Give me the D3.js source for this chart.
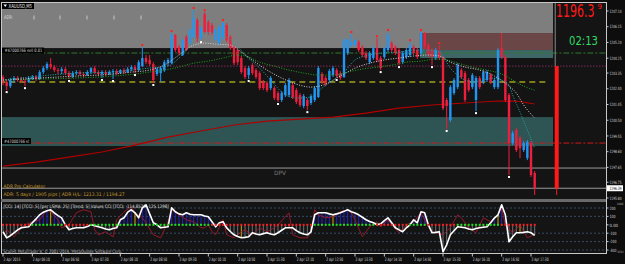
<!DOCTYPE html>
<html>
<head>
<meta charset="utf-8">
<script src="https://cdn.jsdelivr.net/npm/d3@7"></script>
<style>
html, body { margin: 0; padding: 0; background: #0d0d0d; }
svg { display: block; }
text { font-family: "DejaVu Sans", sans-serif; }
</style>
</head>
<body>
<svg id="chart" width="625" height="264"></svg>
<script>
// XAUUSD M5 bars, 2 Apr 2015 05:30 .. 17:35  [open, high, low, close]
var ohlc = [
  [1203.11,1203.23,1202.62,1202.81],[1202.81,1202.93,1202.32,1202.56],[1202.56,1203.05,1202.44,1202.93],
  [1202.93,1203.17,1202.75,1203.05],[1203.05,1203.17,1202.81,1202.93],[1202.93,1203.11,1202.75,1202.87],
  [1202.87,1202.99,1202.56,1202.81],[1202.81,1203.17,1202.75,1203.05],[1203.05,1203.23,1202.93,1203.11],
  [1203.11,1203.23,1202.87,1202.99],[1202.99,1203.53,1202.93,1203.41],[1203.41,1203.77,1203.29,1203.65],
  [1203.65,1204.01,1203.53,1203.89],[1203.89,1204.26,1203.59,1203.71],[1203.71,1203.83,1203.41,1203.53],
  [1203.53,1203.65,1203.29,1203.47],[1203.47,1203.71,1203.29,1203.59],[1203.59,1203.71,1203.23,1203.35],
  [1203.35,1203.47,1202.99,1203.17],[1203.17,1203.47,1203.05,1203.35],[1203.35,1203.53,1203.23,1203.41],
  [1203.41,1203.53,1203.17,1203.29],[1203.29,1203.41,1203.11,1203.23],[1203.23,1203.53,1203.17,1203.41],
  [1203.41,1203.71,1203.29,1203.65],[1203.65,1203.77,1203.29,1203.41],[1203.41,1203.53,1203.17,1203.29],
  [1203.29,1203.53,1203.05,1203.41],[1203.41,1203.53,1203.17,1203.29],[1203.29,1203.53,1203.23,1203.41],
  [1203.41,1203.59,1202.99,1203.47],[1203.47,1203.59,1203.23,1203.35],[1203.35,1203.59,1203.29,1203.53],
  [1203.53,1203.65,1203.29,1203.41],[1203.41,1203.71,1203.35,1203.59],[1203.59,1203.83,1203.47,1203.71],
  [1203.71,1203.83,1203.35,1203.53],[1203.53,1204.14,1203.47,1204.01],[1203.77,1204.92,1203.71,1204.26],
  [1204.26,1204.44,1203.89,1204.01],[1204.14,1204.44,1203.77,1203.89],[1203.89,1204.01,1202.75,1202.93],
  [1203.29,1203.71,1203.17,1203.59],[1203.35,1203.77,1202.81,1203.65],[1203.53,1204.14,1203.41,1204.01],
  [1203.95,1204.26,1203.77,1204.14],[1203.95,1205.77,1203.89,1205.65],[1205.65,1205.71,1204.62,1204.74],
  [1204.92,1205.04,1204.44,1204.56],[1204.44,1205.46,1204.38,1205.34],[1205.52,1205.65,1204.68,1204.74],
  [1205.16,1206.07,1205.04,1205.95],[1205.52,1207.16,1205.46,1206.67],[1206.55,1206.67,1205.22,1205.46],
  [1205.46,1206.19,1205.34,1206.07],[1206.91,1207.03,1205.71,1205.83],[1206.43,1206.55,1205.65,1205.83],
  [1206.25,1206.37,1205.65,1205.77],[1205.34,1206.07,1205.22,1205.95],[1205.16,1206.25,1205.04,1206.13],
  [1205.52,1206.43,1205.34,1206.37],[1206.25,1206.37,1205.22,1205.34],[1205.52,1205.65,1204.74,1204.86],
  [1204.92,1205.04,1203.83,1203.95],[1204.74,1204.86,1203.83,1204.01],[1204.26,1204.38,1203.29,1203.41],
  [1203.65,1203.77,1202.99,1203.11],[1203.23,1203.77,1202.99,1203.65],[1203.83,1203.95,1203.23,1203.35],
  [1203.53,1203.65,1202.99,1203.11],[1203.35,1203.47,1202.32,1202.44],[1202.81,1202.93,1202.32,1202.44],
  [1202.75,1202.87,1202.20,1202.32],[1202.44,1203.17,1202.32,1203.05],[1202.44,1202.56,1201.72,1201.84],
  [1202.14,1202.26,1201.60,1201.72],[1201.72,1202.26,1201.60,1202.14],[1202.02,1202.75,1201.90,1202.62],
  [1202.02,1203.05,1201.90,1202.93],[1202.62,1202.75,1201.78,1201.90],[1202.32,1202.44,1201.48,1201.60],
  [1202.02,1202.14,1201.30,1201.42],[1201.36,1202.08,1201.23,1201.96],[1201.72,1201.84,1201.11,1201.36],
  [1201.54,1202.08,1201.42,1201.96],[1201.72,1202.56,1201.60,1202.44],[1201.90,1203.77,1201.84,1203.65],
  [1203.29,1203.41,1202.68,1202.81],[1203.05,1203.17,1202.56,1202.68],[1202.93,1203.59,1202.81,1203.47],
  [1203.23,1203.77,1203.11,1203.65],[1203.53,1203.65,1203.05,1203.17],[1203.35,1203.47,1202.93,1203.05],
  [1203.11,1205.46,1203.05,1205.34],[1204.56,1205.46,1204.44,1205.34],[1205.04,1205.71,1204.92,1205.22],
  [1205.04,1205.46,1204.92,1205.34],[1205.22,1205.34,1204.62,1204.74],[1204.92,1205.04,1204.32,1204.44],
  [1204.56,1204.68,1204.14,1204.26],[1204.01,1204.68,1203.89,1204.56],[1204.26,1204.98,1204.14,1204.86],
  [1204.86,1205.46,1204.01,1204.14],[1204.26,1204.38,1203.53,1203.65],[1204.32,1204.98,1204.20,1204.86],
  [1204.74,1205.83,1204.62,1205.65],[1205.16,1205.28,1204.62,1204.74],[1204.92,1205.04,1204.44,1204.56],
  [1204.74,1204.86,1203.83,1203.95],[1204.01,1204.68,1203.89,1204.56],[1204.32,1204.86,1204.20,1204.74],
  [1204.44,1205.22,1204.32,1205.04],[1204.92,1205.04,1204.44,1204.56],[1204.74,1204.86,1204.20,1204.32],
  [1204.56,1205.83,1204.44,1205.77],[1205.77,1205.83,1204.80,1204.92],[1205.04,1205.16,1204.32,1204.44],
  [1204.74,1204.86,1203.83,1204.32],[1204.26,1204.86,1204.14,1204.74],[1204.62,1205.04,1204.14,1204.26],
  [1204.26,1204.38,1201.11,1201.23],[1201.72,1201.84,1199.97,1201.36],[1200.51,1202.62,1200.39,1202.50],
  [1202.14,1203.05,1202.02,1202.93],[1202.50,1203.95,1202.38,1203.83],[1203.53,1203.65,1202.99,1203.11],
  [1203.35,1203.47,1201.60,1201.72],[1202.93,1203.05,1202.20,1202.32],[1202.50,1203.35,1202.38,1203.23],
  [1201.72,1203.17,1201.05,1203.05],[1203.05,1203.17,1202.38,1202.50],[1202.81,1203.53,1202.68,1203.41],
  [1202.93,1203.53,1202.81,1203.41],[1203.23,1203.35,1202.68,1202.81],[1202.50,1203.05,1202.38,1202.93],
  [1202.50,1204.86,1202.38,1204.74],[1204.86,1205.77,1204.20,1204.32],[1204.32,1204.44,1201.60,1201.72],
  [1202.02,1202.14,1197.19,1199.12],[1199.12,1199.85,1199.00,1199.72],[1199.91,1200.03,1198.58,1198.70],
  [1199.42,1199.54,1198.21,1198.82],[1198.70,1199.24,1198.58,1199.12],[1198.21,1199.30,1198.09,1199.18],
  [1199.12,1199.24,1197.07,1197.19],[1197.31,1197.43,1195.98,1196.39]
];

// fractal markers (bar index)
var fractalUp = [38, 46, 52, 55, 60, 95, 102, 105, 111, 114, 119];
var fractalDown = [1, 6, 18, 27, 30, 36, 41, 54, 67, 75, 83, 91, 103, 108, 117, 121, 129, 138];

// moving averages read at bar indices
var fastIdx = [0,10,20,30,35,40,45,48,50,52,55,58,60,63,66,70,73,76,80,84,87,90,93,96,100,104,108,112,116,119,122,125,128,131,134,136,138,139,141,143,145];
var fastVal = [1202.93,1203.17,1203.35,1203.41,1203.53,1203.65,1203.77,1204.26,1204.74,1205.34,1205.77,1205.77,1205.59,1205.22,1204.44,1203.65,1202.93,1202.20,1201.84,1201.90,1202.44,1202.93,1203.41,1204.14,1204.44,1204.56,1204.62,1204.74,1204.74,1204.62,1203.65,1203.05,1202.81,1202.93,1203.05,1202.93,1202.62,1202.02,1200.99,1199.91,1198.82];
var midIdx = [0,10,20,30,35,40,44,48,52,55,58,62,65,68,72,76,80,84,88,92,96,100,104,108,112,116,119,122,126,130,134,138,140,142,145];
var midVal = [1202.93,1203.05,1203.17,1203.29,1203.41,1203.53,1203.83,1204.44,1205.04,1205.16,1205.10,1205.04,1204.62,1204.14,1203.53,1203.05,1202.68,1202.50,1202.68,1203.17,1203.65,1203.95,1204.14,1204.26,1204.38,1204.44,1204.38,1204.01,1203.71,1203.53,1203.17,1202.56,1202.14,1201.42,1200.63];
var slowIdx = [0,10,20,30,36,40,44,48,52,56,60,64,67,70,74,78,82,86,90,94,98,102,106,110,114,118,121,124,128,132,136,139,142,145];
var slowVal = [1202.93,1202.99,1203.05,1203.17,1203.29,1203.41,1203.53,1203.71,1203.95,1204.07,1204.26,1204.44,1204.32,1204.01,1203.77,1203.53,1203.35,1203.23,1203.23,1203.41,1203.59,1203.71,1203.83,1204.01,1204.07,1204.20,1204.14,1203.95,1203.71,1203.53,1203.29,1202.93,1202.56,1202.32];
var longIdx = [0,9,18,27,36,45,54,63,72,81,90,99,108,117,126,135,140,145];
var longVal = [1197.73,1197.97,1198.27,1198.58,1199.00,1199.48,1199.85,1200.21,1200.45,1200.57,1200.69,1200.93,1201.23,1201.42,1201.54,1201.66,1201.66,1201.48];

// chart objects
var sellPrice = 1204.56, slPrice = 1199.12, dayOpen = 1203.77, olivePrice = 1202.81;
var grayLinePrice = 1197.61, bidPrice = 1196.39, dayLow = 1195.98;
var grayZone = [1204.86, 1207.90], redZone = [1204.74, 1205.77], tealSmall = [1204.26, 1204.74], tealBand = [1198.94, 1200.69];

var priceTicks = [1207.10, 1206.15, 1205.20, 1204.25, 1203.35, 1202.40, 1201.45, 1200.50, 1199.55, 1198.60, 1197.65, 1196.75, 1195.80];
var timeLabels = ["2 Apr 2015","2 Apr 06:10","2 Apr 06:50","2 Apr 07:30","2 Apr 08:10","2 Apr 08:50","2 Apr 09:30","2 Apr 10:10","2 Apr 10:50","2 Apr 11:30","2 Apr 12:10","2 Apr 12:50","2 Apr 13:30","2 Apr 14:10","2 Apr 14:50","2 Apr 15:30","2 Apr 16:10","2 Apr 16:50","2 Apr 17:30"];
var timeIdx = [0,8,16,24,32,40,48,56,64,72,80,88,96,104,112,120,128,136,144];

// CCI sub window
var tcci = [-83,-155,-130,-95,-60,-36,-30,-24,24,70,119,150,167,179,143,110,83,0,-60,-45,
  -36,-36,-36,-20,0,-10,-24,-36,-50,-60,-45,-36,60,83,150,179,143,83,202,238,
  130,24,0,-36,-30,-24,202,155,130,119,143,125,119,119,119,105,95,36,-24,24,
  36,-36,-80,-119,-140,-155,-150,-143,-95,-110,-119,-105,-95,-110,-119,-95,-65,-36,-36,-36,
  -70,-95,-110,-119,-83,119,143,143,143,130,119,130,143,160,179,155,140,119,90,60,
  40,24,0,12,50,83,24,-36,-60,-83,-36,0,60,24,155,143,0,-95,-90,-83,
  -321,-238,-119,-70,-24,-30,-36,-50,-60,-45,-36,-30,-24,24,80,119,238,119,-202,-143,
  -95,-95,-90,-83,-95,-125];
var cciIdx = [0,1,3,5,6,8,10,12,13,15,16,18,20,22,24,25,26,28,30,31,33,35,36,38,39,41,43,45,46,48,50,52,54,55,56,57,58,60,61,63,65,66,68,70,72,74,75,78,79,81,83,84,85,86,88,90,92,94,95,96,98,100,102,103,105,106,108,110,112,114,116,117,120,122,124,125,127,129,131,133,135,136,137,139,141,143,145];
var cciVal = [-119,-60,-143,-36,0,36,60,179,155,60,-36,0,143,179,155,-60,-119,-83,-143,60,155,214,143,83,24,-119,-155,36,179,119,60,36,-36,-36,0,-83,-119,60,-119,-155,-83,-60,-119,-36,-83,-36,0,143,-119,-155,-155,-83,179,119,83,95,155,179,143,60,-143,-24,36,-24,60,0,-95,0,36,143,-24,-83,-119,-36,119,83,-36,-95,83,36,119,202,0,-95,0,-155,-115];
var trend = "rrrrrrrrgggggggggrrrrrrrgggggggggggggggggggggggggggggggggrrrrrrrrrrrrrrrrrrrrrrrrrrrrgggggggggggggggggrrrrrrrrrgggggrrrrrrrrggggggggggggrrrrrrrrrr";
var goldIdx = [13, 36, 65, 90, 135, 141];
var cciTicks = [200, 100, 0, -100, -200, -300];
var cciRange = ["329.9932", "-356.5613"];

var W = 625, H = 264;
var svg = d3.select("#chart");
var x = d3.scaleLinear().domain([0, 164.45]).range([3, 606]);
var y = d3.scaleLinear().domain([1195.80, 1207.10]).range([198, 11]);
var yc = d3.scaleLinear().domain([-300, 200]).range([250, 208]);

var defs = svg.append("defs");
defs.append("clipPath").attr("id", "clipMain").append("rect")
  .attr("x", 2).attr("y", 3).attr("width", 604).attr("height", 196);
defs.append("clipPath").attr("id", "clipSub").append("rect")
  .attr("x", 2).attr("y", 202).attr("width", 604).attr("height", 51);

svg.append("rect").attr("width", W).attr("height", H).attr("fill", "#0d0d0d");

// text squeezed horizontally to the width seen in the screenshot
function label(g, px, py, str, size, color, width) {
  var t = g.append("text").attr("x", 0).attr("y", 0).text(str)
    .attr("font-size", size).attr("fill", color);
  var sx = 1;
  if (width) {
    var w = t.node().getComputedTextLength();
    if (w > 0) sx = width / w;
  }
  t.attr("transform", "translate(" + px + "," + py + ") scale(" + sx + ",1)");
  return t;
}

// ---------- main window ----------
var main = svg.append("g").attr("clip-path", "url(#clipMain)");
main.append("rect").attr("x", 2).attr("y", 3).attr("width", 604).attr("height", 196).attr("fill", "#141414");

function zone(lohi, i0, i1, color) {
  main.append("rect")
    .attr("x", x(i0)).attr("width", x(i1) - x(i0))
    .attr("y", y(lohi[1])).attr("height", y(lohi[0]) - y(lohi[1]))
    .attr("fill", color);
}
zone(grayZone, -1, 150, "#7e7e7e");
zone(redZone, 113.7, 150, "#6b4646");
zone(tealSmall, 113.7, 150, "#3e6666");
zone(tealBand, -1, 150, "#2e5454");

function hline(price, i0, i1, color, width, dash) {
  main.append("line")
    .attr("x1", x(i0)).attr("x2", x(i1))
    .attr("y1", y(price)).attr("y2", y(price))
    .attr("stroke", color).attr("stroke-width", width)
    .attr("stroke-dasharray", dash || null);
}
hline(olivePrice, -1, 148.4, "#7d7d1c", 2, "6,4");
hline(dayOpen, -1, 165, "#b8307a", 1, "1,2");
hline(sellPrice, -1, 165, "#2f7a2f", 1, "6,2,2,2");
hline(slPrice, -1, 165, "#d01818", 1, "6,2,2,2");
hline(grayLinePrice, -1, 165, "#9a9a9a", 1);
hline(bidPrice, -1, 165, "#9a9a9a", 1);

// day range bar on the right
var dayBarIdx = 150.6;
main.append("line").attr("x1", x(dayBarIdx)).attr("x2", x(dayBarIdx))
  .attr("y1", 3).attr("y2", y(dayOpen)).attr("stroke", "#8a8a8a").attr("stroke-width", 1);
main.append("line").attr("x1", x(dayBarIdx) + 1.5).attr("x2", x(dayBarIdx) + 1.5)
  .attr("y1", y(bidPrice)).attr("y2", y(dayLow)).attr("stroke", "#ff1a1a").attr("stroke-width", 1);
main.append("rect").attr("x", x(dayBarIdx) - 0.5).attr("width", 4)
  .attr("y", y(dayOpen)).attr("height", y(bidPrice) - y(dayOpen)).attr("fill", "#ff1a1a");

// long red MA
var lineGen = d3.line().x(function(d) { return x(d[0]); }).y(function(d) { return y(d[1]); });
main.append("path").attr("d", lineGen(d3.zip(longIdx, longVal)))
  .attr("fill", "none").attr("stroke", "#b00000").attr("stroke-width", 1.2);

// candles
var cw = 2.4;
var bars = main.append("g");
ohlc.forEach(function(d, i) {
  var up = d[3] >= d[0];
  var col = up ? "#2196f3" : "#ee1e3e";
  bars.append("line").attr("x1", x(i)).attr("x2", x(i))
    .attr("y1", y(d[1])).attr("y2", y(d[2])).attr("stroke", col).attr("stroke-width", 1);
  var top = y(Math.max(d[0], d[3])), bot = y(Math.min(d[0], d[3]));
  bars.append("rect").attr("x", x(i) - cw / 2).attr("width", cw)
    .attr("y", top).attr("height", Math.max(1, bot - top)).attr("fill", col);
});

// dotted moving averages
var curve = d3.line().x(function(d) { return x(d[0]); }).y(function(d) { return y(d[1]); }).curve(d3.curveMonotoneX);
main.append("path").attr("d", curve(d3.zip(slowIdx, slowVal)))
  .attr("fill", "none").attr("stroke", "#1fa31f").attr("stroke-width", 1).attr("stroke-dasharray", "1,1.5");
main.append("path").attr("d", curve(d3.zip(midIdx, midVal)))
  .attr("fill", "none").attr("stroke", "#d0d0d0").attr("stroke-width", 1).attr("stroke-dasharray", "1,1.5");
main.append("path").attr("d", curve(d3.zip(fastIdx, fastVal)))
  .attr("fill", "none").attr("stroke", "#23a9a9").attr("stroke-width", 1).attr("stroke-dasharray", "1,1.5");

// fractals
fractalUp.forEach(function(i) {
  main.append("rect").attr("x", x(i) - 1).attr("y", y(ohlc[i][1]) - 3).attr("width", 2).attr("height", 2).attr("fill", "#ff2020");
});
fractalDown.forEach(function(i) {
  main.append("rect").attr("x", x(i) - 1).attr("y", y(ohlc[i][2]) + 1).attr("width", 2).attr("height", 2).attr("fill", "#ffffff");
});

// main window texts
main.append("rect").attr("x", 1).attr("y", 2).attr("width", 33).attr("height", 7).attr("fill", "#000");
main.append("path").attr("d", "M3.5,4.5 L7,4.5 L5.25,7 Z").attr("fill", "#fff");
label(main, 8.5, 7.8, "XAUUSD,M5", 5.5, "#e8e8e8", 23.5);
label(main, 4, 19, "ADR:", 5, "#dadada", 9);
[34, 60, 87, 114, 141].forEach(function(px) {
  main.append("line").attr("x1", px).attr("x2", px).attr("y1", 15.5).attr("y2", 19.5).attr("stroke", "#d8d8d8").attr("stroke-width", 0.8);
});
main.append("rect").attr("x", 2).attr("y", y(sellPrice) - 5.5).attr("width", 42).attr("height", 6).attr("fill", "#000");
label(main, 4.5, y(sellPrice) - 0.8, "#47000766 sell 0.01", 4.6, "#d8d8d8", 38);
main.append("rect").attr("x", 2).attr("y", y(slPrice) - 5).attr("width", 29).attr("height", 6).attr("fill", "#000");
label(main, 4, y(slPrice) - 0.3, "#47000766 sl", 4.6, "#d8d8d8", 25);
label(main, 3.5, 188, "ADR Pro Calculator", 4.8, "#c89a2a", 41.5);
label(main, 3.5, 196, "ADR: 5 days / 1905 pips | ADR H/L: 1213.31 / 1194.27", 4.8, "#c89a2a", 121.5);
label(main, 274, 175, "DPV", 6, "#7a7a7a", 12);

label(svg, 556, 16.5, "1196.3", 18, "#ff1a1a", 38.5);
label(svg, 597.5, 8.5, "9", 7, "#ff1a1a", 4.5);
label(svg, 569, 45, "02:13", 12.5, "#33dd66", 29);

// ---------- CCI sub window ----------
var sub = svg.append("g").attr("clip-path", "url(#clipSub)");
sub.append("rect").attr("x", 2).attr("y", 202).attr("width", 604).attr("height", 51).attr("fill", "#141414");
cciTicks.filter(function(v) { return v !== 0; }).forEach(function(v) {
  sub.append("line").attr("x1", 2).attr("x2", 606).attr("y1", yc(v)).attr("y2", yc(v))
    .attr("stroke", "#3a5878").attr("stroke-width", 0.8).attr("stroke-dasharray", "2,2");
});
tcci.forEach(function(v, i) {
  var col = goldIdx.indexOf(i) >= 0 ? "#d0a020" : (v > 0 ? "#2222c8" : "#6e6e6e");
  sub.append("line").attr("x1", x(i)).attr("x2", x(i)).attr("y1", yc(0)).attr("y2", yc(v))
    .attr("stroke", col).attr("stroke-width", 1);
});
var subLine = d3.line().x(function(d) { return x(d[0]); }).y(function(d) { return yc(d[1]); });
sub.append("path").attr("d", subLine(d3.zip(cciIdx, cciVal)))
  .attr("fill", "none").attr("stroke", "#a0182c").attr("stroke-width", 0.9);
sub.append("path").attr("d", subLine(tcci.map(function(v, i) { return [i, v]; })))
  .attr("fill", "none").attr("stroke", "#ffffff").attr("stroke-width", 1.6).attr("stroke-linejoin", "round");
trend.split("").forEach(function(c, i) {
  sub.append("rect").attr("x", x(i) - 1).attr("y", yc(0) - 1).attr("width", 2).attr("height", 2)
    .attr("fill", c === "g" ? "#22dd22" : "#ee2222");
});
label(sub, 3.5, 207.5, "[CCI: 14] [TCCI: 5] [per LSMA: 25] [Trend: 5] Values CCI [TCCI: -114.8526 -125.1298]", 4.6, "#e0e0e0", 166);
label(sub, 3.5, 252.5, "ScaliFit MetaTrader 4, \u00a9 2001-2014, MetaQuotes Software Corp.", 4.6, "#bdbdbd", 119);

// ---------- frame, separators, axes ----------
svg.append("line").attr("x1", 1).attr("x2", 606).attr("y1", 2.5).attr("y2", 2.5).attr("stroke", "#c8c8c8").attr("stroke-width", 1);
svg.append("line").attr("x1", 1.5).attr("x2", 1.5).attr("y1", 2).attr("y2", 254).attr("stroke", "#c8c8c8").attr("stroke-width", 1);
svg.append("rect").attr("x", 1).attr("y", 199).attr("width", 606).attr("height", 3).attr("fill", "#6a6a6a");
svg.append("line").attr("x1", 1).attr("x2", 606).attr("y1", 253.5).attr("y2", 253.5).attr("stroke", "#c8c8c8").attr("stroke-width", 1);
svg.append("line").attr("x1", 606.5).attr("x2", 606.5).attr("y1", 2).attr("y2", 254).attr("stroke", "#c8c8c8").attr("stroke-width", 1);

var axisG = svg.append("g");
priceTicks.forEach(function(p) {
  axisG.append("line").attr("x1", 606).attr("x2", 608.5).attr("y1", y(p)).attr("y2", y(p)).attr("stroke", "#c8c8c8");
  label(axisG, 609.5, y(p) + 1.7, p.toFixed(2), 4.4, "#d8d8d8", 12);
});
axisG.append("rect").attr("x", 607).attr("y", y(bidPrice) - 3).attr("width", 16).attr("height", 6).attr("fill", "#ffffff");
label(axisG, 609.5, y(bidPrice) + 1.7, bidPrice.toFixed(2), 4.4, "#000", 12);

cciTicks.forEach(function(v) {
  axisG.append("line").attr("x1", 606).attr("x2", 608.5).attr("y1", yc(v)).attr("y2", yc(v)).attr("stroke", "#c8c8c8");
  var str = v === 0 ? "0.00" : String(v);
  label(axisG, 609.5, yc(v) + 1.7, str, 4.4, "#d8d8d8", v === 0 ? 8.5 : (v < 0 ? 7 : 6));
});
label(axisG, 617, 205, cciRange[0], 3, "#c8c8c8", 6.5);
label(axisG, 617, 253, cciRange[1], 3, "#c8c8c8", 6.5);

timeIdx.forEach(function(i, k) {
  axisG.append("line").attr("x1", x(i)).attr("x2", x(i)).attr("y1", 254).attr("y2", 256.5).attr("stroke", "#c8c8c8");
  label(axisG, x(i) + 0.5, 261, timeLabels[k], 4.6, "#d8d8d8", 17);
});
</script>
</body>
</html>
